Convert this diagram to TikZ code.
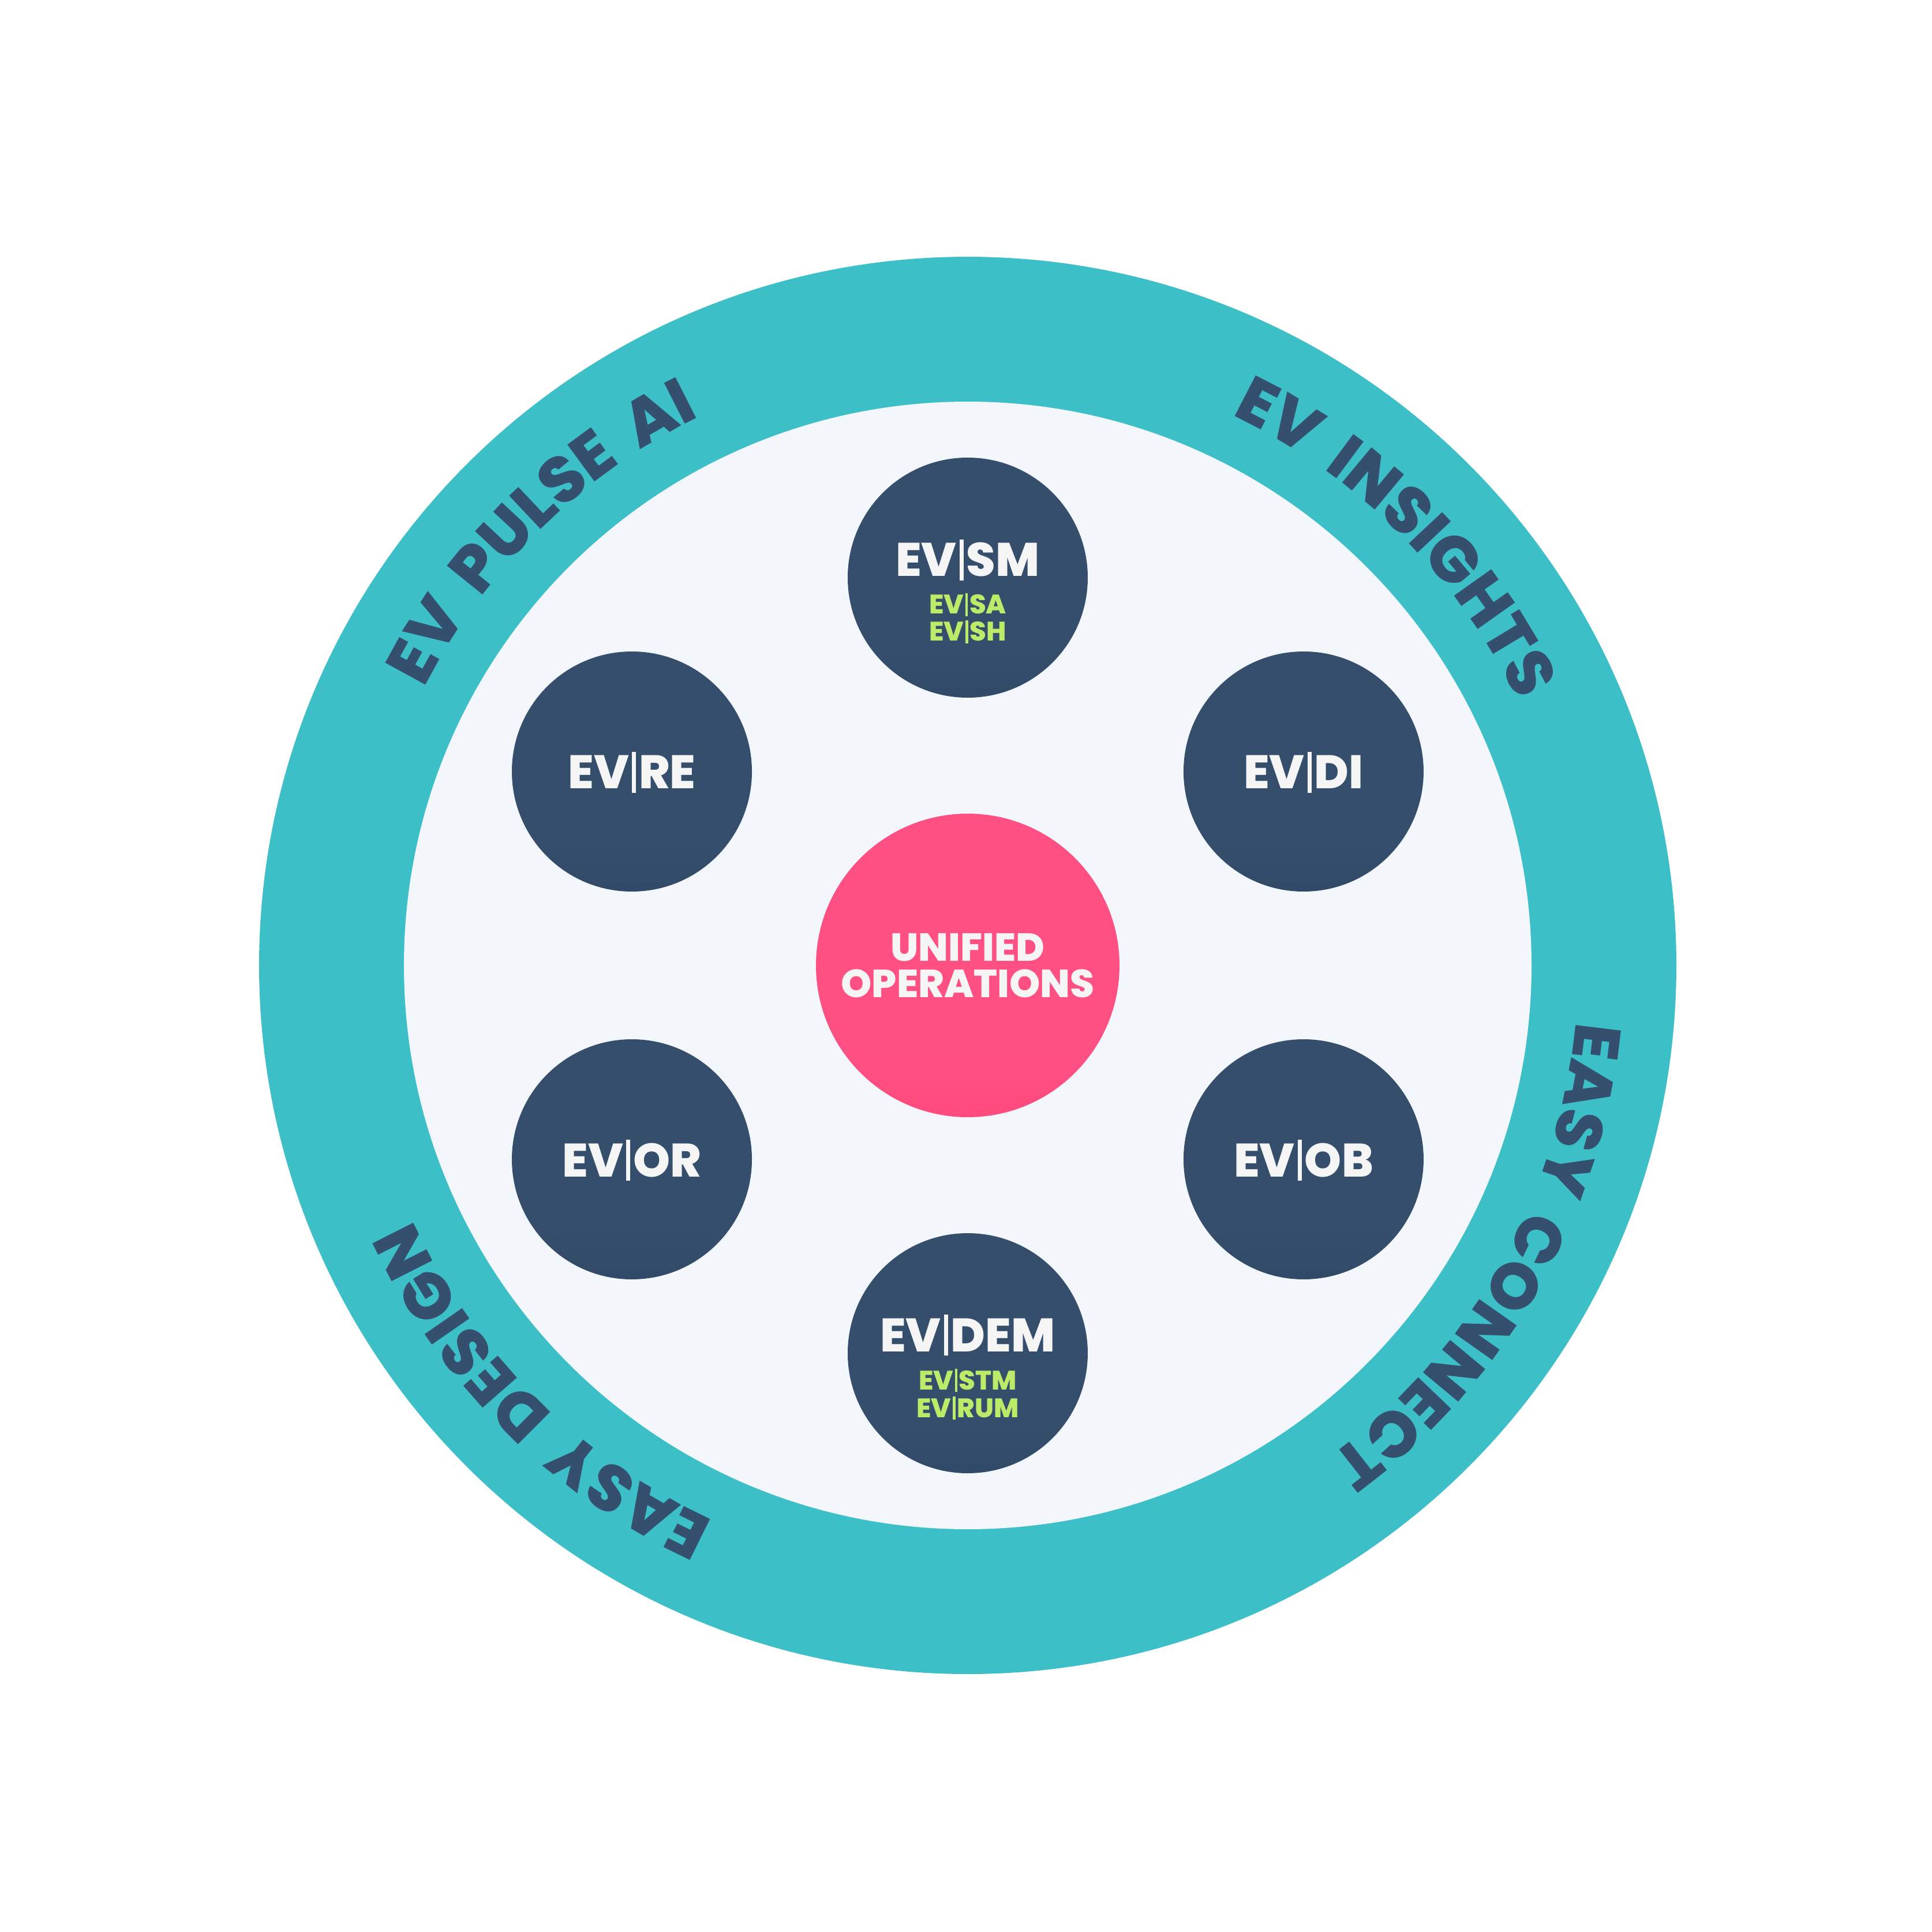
\documentclass[tikz,border=0pt]{standalone}
\usepackage{fontspec}
\setmainfont{Poppins}[BoldFont={Poppins ExtraBold}]
\newfontfamily\ringfont{Poppins ExtraBold}[LetterSpace=1.5, WordSpace=1.7]
\usetikzlibrary{decorations.text}
\definecolor{ringteal}{HTML}{3DBFC8}
\definecolor{ringedge}{HTML}{33AEB8}
\definecolor{innerbg}{HTML}{F3F7FB}
\definecolor{inneredge}{HTML}{E4E8EE}
\definecolor{navy}{HTML}{344E6B}
\definecolor{navydark}{HTML}{2A405D}
\definecolor{ringtext}{HTML}{35506E}
\definecolor{corepink}{HTML}{FF5083}
\definecolor{corepinkdark}{HTML}{FF3C70}
\definecolor{subgreen}{HTML}{BCEB6A}
\definecolor{labelwhite}{HTML}{F5F5F5}
\pgfdeclareradialshading{ringshade}{\pgfpoint{0bp}{0bp}}{color(0bp)=(ringteal); color(42bp)=(ringteal); color(50bp)=(ringedge)}
\pgfdeclareradialshading{innershade}{\pgfpoint{0bp}{0bp}}{color(0bp)=(innerbg); color(40bp)=(innerbg); color(50bp)=(inneredge)}
\pgfdeclareverticalshading{modshade}{100bp}{color(0bp)=(navydark); color(35bp)=(navy); color(100bp)=(navy)}
\pgfdeclareverticalshading{coreshade}{100bp}{color(0bp)=(corepinkdark); color(35bp)=(corepink); color(100bp)=(corepink)}
\newcommand\vb{\kern0.06em\rule[-0.09em]{0.09em}{0.87em}\kern0.06em}
\tikzset{
  module/.style={circle, shading=modshade, minimum size=4.16cm, inner sep=0pt},
  mainlbl/.style={anchor=base, inner sep=0pt, text=labelwhite, font=\bfseries\fontsize{23.2}{25}\selectfont},
  sublbl/.style={anchor=base, inner sep=0pt, text=subgreen, font=\bfseries\fontsize{13.2}{14}\selectfont},
  corelbl/.style={anchor=base, inner sep=0pt, text=labelwhite, font=\bfseries\fontsize{19.3}{20}\selectfont},
  ringlbl/.style={decorate, decoration={text along path, text align=center, text color=ringtext,
     text={|\ringfont\fontsize{32}{34}\selectfont|#1}}}
}
\begin{document}
\begin{tikzpicture}[x=1cm,y=1cm]
\useasboundingbox (-16.77,-16.75) rectangle (16.71,16.73);
\fill[white] (-16.77,-16.75) rectangle (16.71,16.73);
% rings
\node[circle, shading=ringshade, minimum size=24.56cm, inner sep=0pt] (ring) at (0,0) {};
\node[circle, shading=innershade, minimum size=19.54cm, inner sep=0pt] (inner) at (0,0) {};
% ring texts
\path[ringlbl={EV PULSE AI}] (194.5:10.58) arc[start angle=194.5, end angle=74.5, radius=10.58];
\path[ringlbl={EV INSIGHTS}] (105:10.58) arc[start angle=105, end angle=-15, radius=10.58];
\path[ringlbl={EASY CONNECT}] (30.5:10.58) arc[start angle=30.5, end angle=-89.5, radius=10.58];
\path[ringlbl={EASY DESIGN}] (285:10.58) arc[start angle=285, end angle=165, radius=10.58];
% core
\node[circle, shading=coreshade, minimum size=5.26cm, inner sep=0pt] (core) at (0,0) {};
\node[corelbl] (coreA) at ([yshift=0.08cm]core.center) {UNIFIED};
\node[corelbl] (coreB) at ([yshift=-0.55cm]core.center) {OPERATIONS};
% modules
\node[module] (sm) at (90:6.72) {};
\node[mainlbl] (smT) at ([yshift=0.02cm]sm.center) {EV\vb SM};
\node[sublbl] (smA) at ([yshift=-0.63cm]sm.center) {EV\vb SA};
\node[sublbl] (smB) at ([yshift=-1.10cm]sm.center) {EV\vb SH};
\node[module] (re) at (150:6.72) {};
\node[mainlbl] (reT) at ([yshift=-0.30cm]re.center) {EV\vb RE};
\node[module] (di) at (30:6.72) {};
\node[mainlbl] (diT) at ([yshift=-0.30cm]di.center) {EV\vb DI};
\node[module] (or) at (210:6.72) {};
\node[mainlbl] (orT) at ([yshift=-0.30cm]or.center) {EV\vb OR};
\node[module] (ob) at (-30:6.72) {};
\node[mainlbl] (obT) at ([yshift=-0.30cm]ob.center) {EV\vb OB};
\node[module] (dem) at (270:6.72) {};
\node[mainlbl] (demT) at ([yshift=0.03cm]dem.center) {EV\vb DEM};
\node[sublbl] (demA) at ([yshift=-0.63cm]dem.center) {EV\vb STM};
\node[sublbl] (demB) at ([yshift=-1.11cm]dem.center) {EV\vb RUM};
\end{tikzpicture}
\end{document}
